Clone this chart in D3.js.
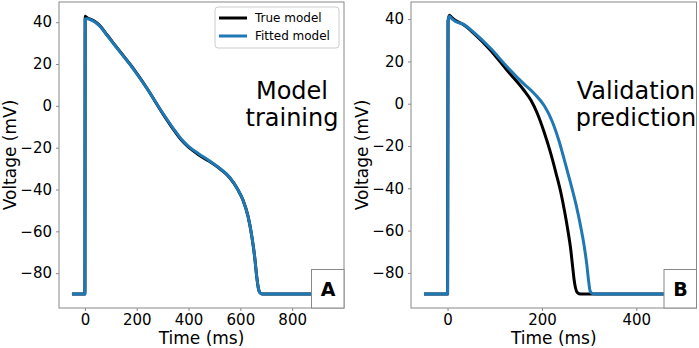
<!DOCTYPE html>
<html>
<head>
<meta charset="utf-8">
<script src="https://cdn.jsdelivr.net/npm/d3@7"></script>
<style>
  body { margin: 0; background: #fff; }
  svg { display: block; font-family: "DejaVu Sans", sans-serif; }
</style>
</head>
<body>
<svg id="chart" width="699" height="348"></svg>
<script>
// panel A - model training
const trueA_t = [-50, 0, 1, 3, 10, 25, 40, 60, 85, 110, 140, 175, 240, 300, 340, 370, 400, 440, 480, 520, 560, 590, 610, 630, 645, 655, 663, 670, 676, 684, 700, 950];
const trueA_v = [-90, -90, 42.8, 42.6, 42, 41.2, 40.2, 38, 34, 30, 25.3, 19.8, 8.3, -3.6, -11, -16, -19.8, -23.5, -26.5, -30, -34.5, -40, -45, -53, -63, -72, -81.5, -87.5, -89.4, -90, -90, -90];
const fitA_t = [-50, 0, 1, 3, 10, 25, 40, 60, 85, 110, 140, 175, 240, 300, 340, 370, 400, 440, 480, 520, 560, 590, 610, 630, 645, 655, 663, 670, 676, 684, 700, 950];
const fitA_v = [-90, -90, 41.5, 41.6, 41.6, 41, 40, 37.8, 33.8, 29.8, 25.1, 19.6, 8.2, -3.4, -10.6, -15.6, -19.4, -23, -26.2, -29.8, -34.3, -40, -45, -53, -63, -72, -81.5, -87.5, -89.4, -90, -90, -90];

// panel B - validation prediction
const trueB_t = [-50, 0, 1, 4, 8, 16, 34, 55, 91, 126, 161, 177, 190, 204, 216, 230, 240, 248, 255, 261, 265, 268, 271, 275, 282, 300, 500];
const trueB_v = [-90, -90, 39, 41.8, 41, 39.5, 37.3, 33.4, 25.3, 15.8, 6.6, 1.5, -4.5, -13, -21.5, -33, -42, -51, -60, -69, -77, -83, -87, -89.3, -90, -90, -90];
const fitB_t = [-50, 0, 1, 4, 8, 16, 34, 55, 91, 126, 161, 185, 205, 222, 236, 248, 260, 272, 282, 290, 295, 299, 302, 307, 315, 500];
const fitB_v = [-90, -90, 39, 41.4, 40.4, 39, 37.5, 33.8, 26.2, 17.5, 9.5, 4.5, -1, -8.5, -17.5, -27, -37, -47.5, -58, -68, -76, -84, -88.5, -89.8, -90, -90];

const yTicks = [-80, -60, -40, -20, 0, 20, 40];
const xTicksA = [0, 200, 400, 600, 800];
const xTicksB = [0, 200, 400];

const BLUE = "#1f77b4";
const FRAME = "#888";

const svg = d3.select("#chart");

const panels = [
  { id: "A", left: 59, right: 344, top: 2, bottom: 308,
    xdom: [-100, 1000], ydom: [-96.65, 49.65], xticks: xTicksA,
    series: [[trueA_t, trueA_v, "#000"], [fitA_t, fitA_v, BLUE]],
    note: ["Model", "training"], noteX: 292, legend: true },
  { id: "B", left: 411, right: 696.5, top: 2, bottom: 308,
    xdom: [-77.5, 527.5], ydom: [-96.6, 48.1], xticks: xTicksB,
    series: [[trueB_t, trueB_v, "#000"], [fitB_t, fitB_v, BLUE]],
    note: ["Validation", "prediction"], noteX: 636, legend: false }
];

panels.forEach(function(p) {
  const x = d3.scaleLinear().domain(p.xdom).range([p.left, p.right]);
  const y = d3.scaleLinear().domain(p.ydom).range([p.bottom, p.top]);
  const g = svg.append("g");

  svg.append("clipPath").attr("id", "clip" + p.id)
    .append("rect")
    .attr("x", p.left).attr("y", p.top)
    .attr("width", p.right - p.left).attr("height", p.bottom - p.top);

  const line = d3.line()
    .x(d => x(d[0]))
    .y(d => y(d[1]))
    .curve(d3.curveMonotoneX);

  p.series.forEach(function(s) {
    const pts = s[0].map((t, i) => [t, s[1][i]]);
    g.append("path")
      .datum(pts)
      .attr("clip-path", "url(#clip" + p.id + ")")
      .attr("fill", "none")
      .attr("stroke", s[2])
      .attr("stroke-width", 3)
      .attr("stroke-linejoin", "round")
      .attr("d", line);
  });

  // axes
  const yAxis = g.append("g").attr("transform", "translate(" + p.left + ",0)")
    .call(d3.axisLeft(y).tickValues(yTicks).tickSize(3).tickPadding(4)
      .tickFormat(d => d < 0 ? "\u2212" + Math.abs(d) : d));
  const xAxis = g.append("g").attr("transform", "translate(0," + p.bottom + ")")
    .call(d3.axisBottom(x).tickValues(p.xticks).tickSize(3).tickPadding(3));
  [xAxis, yAxis].forEach(function(a) {
    a.select(".domain").remove();
    a.selectAll("line").attr("stroke", FRAME);
    a.selectAll("text").attr("font-size", 15).attr("fill", "#000")
      .attr("font-family", "DejaVu Sans");
  });

  g.append("rect")
    .attr("x", p.left).attr("y", p.top)
    .attr("width", p.right - p.left).attr("height", p.bottom - p.top)
    .attr("fill", "none").attr("stroke", FRAME).attr("stroke-width", 1);

  g.append("text")
    .attr("x", (p.left + p.right) / 2).attr("y", 343.5)
    .attr("text-anchor", "middle").attr("font-size", 17)
    .text("Time (ms)");
  g.append("text")
    .attr("transform", "translate(" + (p.left - 43.5) + "," + ((p.top + p.bottom) / 2) + ") rotate(-90)")
    .attr("text-anchor", "middle").attr("font-size", 17)
    .text("Voltage (mV)");

  // annotation
  g.append("text").attr("x", p.noteX).attr("y", 99)
    .attr("text-anchor", "middle").attr("font-size", 24).text(p.note[0]);
  g.append("text").attr("x", p.noteX).attr("y", 126)
    .attr("text-anchor", "middle").attr("font-size", 24).text(p.note[1]);

  // panel letter box
  g.append("rect")
    .attr("x", p.right - 32.5).attr("y", p.bottom - 38.5)
    .attr("width", 32.5).attr("height", 38.5)
    .attr("fill", "#fff").attr("stroke", FRAME).attr("stroke-width", 1);
  g.append("text")
    .attr("x", p.right - 16).attr("y", p.bottom - 12.5)
    .attr("text-anchor", "middle").attr("font-size", 19).attr("font-weight", "bold")
    .text(p.id);

  if (p.legend) {
    const lg = g.append("g").attr("transform", "translate(215,7)");
    lg.append("rect").attr("width", 124).attr("height", 41).attr("rx", 3)
      .attr("fill", "#fff").attr("fill-opacity", 0.8).attr("stroke", "#ccc");
    [["True model", "#000"], ["Fitted model", BLUE]].forEach(function(e, i) {
      const yy = 11 + i * 18;
      lg.append("line").attr("x1", 4).attr("x2", 32).attr("y1", yy).attr("y2", yy)
        .attr("stroke", e[1]).attr("stroke-width", 3);
      lg.append("text").attr("x", 40).attr("y", yy + 4.3)
        .attr("font-size", 12).text(e[0]);
    });
  }
});
</script>
</body>
</html>
